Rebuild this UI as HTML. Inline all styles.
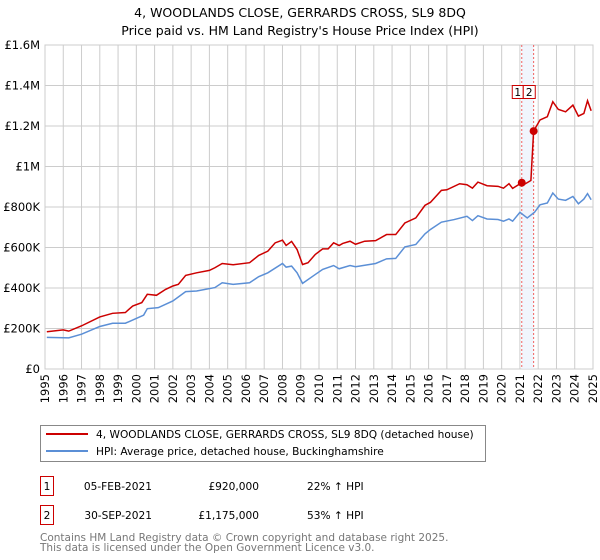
<!DOCTYPE html>
<html><head><meta charset="utf-8"><style>
body{margin:0;width:600px;height:560px;background:#fff;font-family:"Liberation Sans","DejaVu Sans",sans-serif;overflow:hidden}
svg{position:absolute;left:0;top:0}
</style></head><body>
<svg width="600" height="560" font-family="DejaVu Sans, Liberation Sans, sans-serif">
<text x="300" y="17" text-anchor="middle" font-size="12.5">4, WOODLANDS CLOSE, GERRARDS CROSS, SL9 8DQ</text>
<text x="300" y="35" text-anchor="middle" font-size="12.5">Price paid vs. HM Land Registry's House Price Index (HPI)</text>
<g id="grid"></g>
<g id="axes"></g>
<g id="marks"></g>
<g>
<rect x="40.5" y="425.5" width="445" height="36" fill="#fff" stroke="#888"/>
<line x1="46" y1="434" x2="88" y2="434" stroke="#cc0000" stroke-width="2"/>
<text x="96" y="438" font-size="10.6">4, WOODLANDS CLOSE, GERRARDS CROSS, SL9 8DQ (detached house)</text>
<line x1="46" y1="451" x2="88" y2="451" stroke="#5b8fd6" stroke-width="2"/>
<text x="96" y="455" font-size="10.6">HPI: Average price, detached house, Buckinghamshire</text>
</g>
<g font-size="10.6">
<rect x="40.5" y="476.5" width="13" height="19" fill="none" stroke="#cc0000"/>
<text x="47" y="490" text-anchor="middle">1</text>
<text x="152" y="490" text-anchor="end">05-FEB-2021</text>
<text x="259" y="490" text-anchor="end">£920,000</text>
<text x="307" y="490">22% ↑ HPI</text>
<rect x="40.5" y="505.5" width="13" height="19" fill="none" stroke="#cc0000"/>
<text x="47" y="519" text-anchor="middle">2</text>
<text x="152" y="519" text-anchor="end">30-SEP-2021</text>
<text x="259" y="519" text-anchor="end">£1,175,000</text>
<text x="307" y="519">53% ↑ HPI</text>
</g>
<text x="40" y="541" font-size="10.5" fill="#777">Contains HM Land Registry data © Crown copyright and database right 2025.</text>
<text x="40" y="551" font-size="10.5" fill="#777">This data is licensed under the Open Government Licence v3.0.</text>
</svg>
<script>
const years=[1995,1996,1997,1998,1999,2000,2001,2002,2003,2004,2005,2006,2007,2008,2009,2010,2011,2012,2013,2014,2015,2016,2017,2018,2019,2020,2021,2022,2023,2024,2025];
const yTicks=[0,200000,400000,600000,800000,1000000,1200000,1400000,1600000];
const yTickLabels=["£0","£200K","£400K","£600K","£800K","£1M","£1.2M","£1.4M","£1.6M"];
const propT=[1995.1,1996,1996.3,1997,1998,1998.7,1999.4,1999.8,2000.3,2000.6,2001.1,2001.6,2002,2002.3,2002.7,2003.3,2004,2004.3,2004.7,2005.3,2006.2,2006.7,2007.2,2007.6,2008,2008.2,2008.5,2008.8,2009.1,2009.4,2009.8,2010.2,2010.5,2010.8,2011.1,2011.3,2011.7,2012,2012.5,2013.1,2013.7,2014.2,2014.7,2015.3,2015.8,2016.1,2016.7,2017,2017.7,2018.1,2018.4,2018.7,2019.2,2019.8,2020.1,2020.4,2020.6,2021.1,2021.3,2021.6,2021.75,2022.1,2022.5,2022.8,2023.1,2023.5,2023.9,2024.2,2024.5,2024.7,2024.9];
const propV=[184,193,187,213,257,275,279,311,328,369,364,393,410,418,462,475,487,500,521,515,525,561,582,623,636,610,630,590,516,525,566,593,593,623,610,620,631,616,631,634,664,664,721,746,808,823,882,885,915,910,893,923,905,902,893,915,892,920,915,931,1175,1230,1246,1320,1282,1270,1303,1249,1262,1325,1275];
const hpiT=[1995.1,1996.3,1997,1998,1998.7,1999.4,2000.4,2000.6,2001.2,2002,2002.7,2003.3,2004.3,2004.7,2005.3,2006.2,2006.7,2007.2,2008,2008.2,2008.5,2008.8,2009.1,2009.8,2010.2,2010.8,2011.1,2011.7,2012,2013.1,2013.7,2014.2,2014.7,2015.3,2015.8,2016.1,2016.7,2017.4,2018.1,2018.4,2018.7,2019.2,2019.8,2020.1,2020.4,2020.6,2021,2021.4,2021.8,2022.1,2022.5,2022.8,2023.1,2023.5,2023.9,2024.2,2024.5,2024.7,2024.9];
const hpiV=[156,154,172,210,226,226,266,298,303,336,382,385,402,426,418,426,456,475,521,503,508,475,423,467,492,511,495,511,505,521,544,546,603,615,667,689,725,738,754,733,757,741,738,730,741,730,774,746,774,811,820,869,839,833,852,816,839,866,836];
const saleT=[2021.1,2021.75];
const saleV=[920,1175];
const X0=45,X1=593,Y0=369,Y1=45;
const xs=t=>X0+(t-1995)/30*(X1-X0);
const ys=v=>Y0-v/1600000*(Y0-Y1);
const NS="http://www.w3.org/2000/svg";
function mk(tag,attrs,parent){const e=document.createElementNS(NS,tag);for(const k in attrs)e.setAttribute(k,attrs[k]);parent.appendChild(e);return e;}
const grid=document.getElementById('grid'),axes=document.getElementById('axes'),marks=document.getElementById('marks');
mk('rect',{x:X0,y:Y1,width:X1-X0,height:Y0-Y1,fill:'#fff',stroke:'#ccc'},grid);
years.forEach(y=>{const l=mk('line',{x1:xs(y),x2:xs(y),y1:Y1,y2:Y0,stroke:'#ccc','stroke-width':1},grid);


const px=xs(y)+4,py=Y0+5;
const t=mk('text',{x:px,y:py,'text-anchor':'end','font-size':11.5,transform:'rotate(-90 '+px+' '+py+')'},axes);t.textContent=y;

});
yTicks.forEach((v,i)=>{const l=mk('line',{x1:X0,x2:X1,y1:ys(v),y2:ys(v),stroke:'#ccc','stroke-width':1},grid);


const t=mk('text',{x:X0-5,y:ys(v)+4,'text-anchor':'end','font-size':11.5},axes);t.textContent=yTickLabels[i];

});
const band=mk('rect',{x:xs(saleT[0]),y:Y1,width:xs(saleT[1])-xs(saleT[0]),height:Y0-Y1,fill:'#e8eefa',opacity:0.6},marks);


saleT.forEach((t,i)=>{const l=mk('line',{x1:xs(t),x2:xs(t),y1:Y1,y2:Y0,stroke:'#f06060','stroke-dasharray':'2,2','stroke-width':1},marks);


const x=i==0?xs(saleT[0])-10:xs(saleT[0])+1;
const r=mk('rect',{x:x+0.5,y:85.5,width:i==0?11:12,height:13,fill:'#fff',stroke:'#cc0000'},marks);


const tx=mk('text',{x:x+(i==0?6:6.5),y:96,'text-anchor':'middle','font-size':10.5},marks);tx.textContent=String(i+1);

});
const hp=mk('polyline',{points:hpiT.map((t,i)=>xs(t)+','+ys(hpiV[i]*1000)).join(' '),fill:'none',stroke:'#5b8fd6','stroke-width':1.5},marks);


const pp=mk('polyline',{points:propT.map((t,i)=>xs(t)+','+ys(propV[i]*1000)).join(' '),fill:'none',stroke:'#cc0000','stroke-width':1.5},marks);


saleT.forEach((t,i)=>{const c=mk('circle',{cx:xs(t),cy:ys(saleV[i]*1000),r:4,fill:'#cc0000'},marks);

});
</script>
</body></html>
